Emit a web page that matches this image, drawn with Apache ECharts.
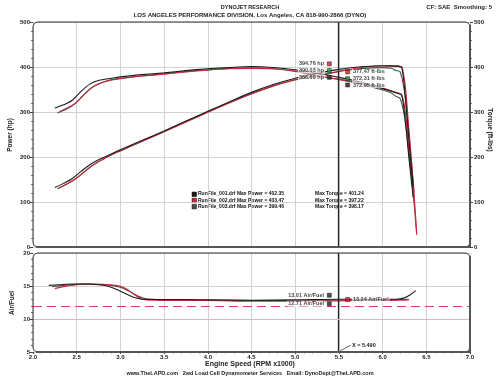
<!DOCTYPE html>
<html><head><meta charset="utf-8">
<script src="https://cdn.jsdelivr.net/npm/echarts@6/dist/echarts.min.js"></script>
<style>html,body{margin:0;padding:0;background:#fff}#c{width:500px;height:386px}</style>
</head><body><div id="c"></div>
<script>
// ---------- DATA ----------
var runNames = ['RunFile_001.drf', 'RunFile_002.drf', 'RunFile_003.drf'];
var maxPower = ['402.35', '403.47', '399.46'];
var maxTorque = ['401.24', '397.22', '398.17'];
var xTicks = [2.0, 2.5, 3.0, 3.5, 4.0, 4.5, 5.0, 5.5, 6.0, 6.5, 7.0];
var cursorX = 5.49;

var rpm1 = [2.25, 2.35, 2.45, 2.55, 2.65, 2.75, 2.9, 3.0, 3.25, 3.5, 3.75, 4.0, 4.25, 4.5, 4.75, 5.0, 5.25, 5.5, 5.75, 6.0, 6.1, 6.18, 6.22, 6.26, 6.3, 6.35];
var torque1 = [309, 316, 326, 346, 362, 370, 375, 378, 383, 387, 392, 396, 399, 401, 399, 394, 386, 377, 366, 352, 346, 341, 336, 280, 200, 110];
var power1 = [132.4, 141.4, 152.1, 168.0, 182.7, 193.7, 207.1, 215.9, 237.0, 257.9, 279.9, 301.6, 322.9, 343.6, 360.9, 375.1, 385.9, 394.8, 400.7, 402.1, 401.9, 401.3, 397.9, 333.7, 239.9, 133.0];

var rpm2 = [2.3, 2.4, 2.5, 2.6, 2.7, 2.8, 2.9, 3.0, 3.25, 3.5, 3.75, 4.0, 4.25, 4.5, 4.75, 5.0, 5.25, 5.5, 5.75, 6.0, 6.1, 6.18, 6.22, 6.26, 6.3, 6.35, 6.39];
var torque2 = [300, 310, 322, 342, 358, 366, 372, 375, 380, 384, 389, 393, 396, 397, 396, 391, 381, 372, 364, 353, 347, 342, 338, 300, 220, 120, 27];
var power2 = [131.4, 141.7, 153.3, 169.3, 184.0, 195.1, 205.4, 214.2, 235.1, 255.9, 277.8, 299.3, 320.4, 340.2, 358.1, 372.2, 380.9, 389.6, 398.5, 403.3, 403.0, 402.4, 400.3, 357.6, 263.9, 145.1, 32.9];

var rpm3 = [2.28, 2.38, 2.48, 2.58, 2.68, 2.8, 2.9, 3.0, 3.25, 3.5, 3.75, 4.0, 4.25, 4.5, 4.75, 5.0, 5.25, 5.5, 5.75, 6.0, 6.1, 6.15, 6.2, 6.25, 6.3, 6.36];
var torque3 = [298, 306, 318, 338, 355, 366, 371, 374, 380, 385, 390, 394, 397, 398, 396, 390, 380, 373, 362, 349, 342, 335, 330, 290, 210, 100];
var power3 = [129.4, 138.7, 150.2, 166.0, 181.1, 195.1, 204.9, 213.6, 235.1, 256.6, 278.5, 300.1, 321.3, 341.0, 358.1, 371.3, 379.9, 390.6, 396.3, 398.7, 397.2, 392.3, 389.6, 345.1, 251.9, 121.1];

var afrRpm1 = [2.18, 2.3, 2.45, 2.6, 2.75, 2.85, 2.95, 3.05, 3.15, 3.25, 3.4, 3.75, 4.0, 4.5, 5.0, 5.5, 5.75, 6.0, 6.15, 6.25, 6.32, 6.38];
var afr1 = [15.1, 15.2, 15.3, 15.3, 15.2, 15.0, 14.5, 13.9, 13.3, 13.0, 12.95, 12.95, 12.9, 12.85, 12.9, 13.0, 13.0, 13.0, 13.0, 13.2, 13.7, 14.3];
var afrRpm2 = [2.25, 2.35, 2.5, 2.65, 2.8, 2.95, 3.05, 3.15, 3.25, 3.4, 3.75, 4.0, 4.5, 5.0, 5.5, 5.75, 6.0, 6.2, 6.3];
var afr2 = [14.6, 14.9, 15.2, 15.3, 15.2, 15.1, 14.7, 13.8, 13.0, 12.85, 12.8, 12.8, 12.7, 12.7, 12.75, 12.8, 12.8, 12.85, 12.9];
var afrRpm3 = [2.22, 2.35, 2.5, 2.65, 2.8, 2.9, 3.0, 3.1, 3.2, 3.3, 3.5, 4.0, 4.5, 5.0, 5.5, 6.0, 6.2, 6.3];
var afr3 = [14.9, 15.1, 15.25, 15.3, 15.25, 15.1, 14.8, 14.2, 13.5, 13.05, 12.9, 12.85, 12.8, 12.8, 12.85, 12.9, 12.95, 13.0];
var afrTarget = 12.0;
var afrLow = 10.0;

var cursorHpText = ['394.76 hp', '390.03 hp', '386.69 hp'];
var cursorTqText = ['377.47 ft-lbs', '372.31 ft-lbs', '372.95 ft-lbs'];
var cursorAfrLeftText = ['13.01 Air/Fuel', '12.71 Air/Fuel'];
var cursorAfrRightText = ['13.24 Air/Fuel'];

// ---------- STYLE / LAYOUT ----------
var colors = ['#1b1b1b', '#c8283a', '#4a4f4a'];
var markColors = ['#d02020', '#2a8a3a', '#222'];
var FF = 'Liberation Sans';
// label anchor positions (in axis units)
var hpAnchor = {x: 5.39, y: [407, 392, 377]};
var tqAnchor = {x: 5.6, y: [389, 374, 360]};
var afrLeftAnchor = {x: 5.39, y: [13.6, 12.3]};
var afrRightAnchor = {x: 5.6, y: [12.95]};

function zip(xs, ys) { return xs.map(function (x, i) { return [x, ys[i]]; }); }

var series = [];
var rpms = [rpm1, rpm2, rpm3], tqs = [torque1, torque2, torque3], pws = [power1, power2, power3];
var afrRpms = [afrRpm1, afrRpm2, afrRpm3], afrs = [afr1, afr2, afr3];
for (var i = 0; i < 3; i++) {
  series.push({type: 'line', xAxisIndex: 0, yAxisIndex: 1, data: zip(rpms[i], tqs[i]), showSymbol: false, smooth: 0.3,
    lineStyle: {color: colors[i], width: 1.1}, z: 3 - i});
  series.push({type: 'line', xAxisIndex: 0, yAxisIndex: 0, data: zip(rpms[i], pws[i]), showSymbol: false, smooth: 0.3,
    lineStyle: {color: colors[i], width: 1.1}, z: 3 - i});
  series.push({type: 'line', xAxisIndex: 1, yAxisIndex: 2, data: zip(afrRpms[i], afrs[i]), showSymbol: false, smooth: 0.3,
    lineStyle: {color: colors[i], width: 1.1}, z: 3 - i});
}
// cursor + reference lines
series.push({type: 'line', xAxisIndex: 0, yAxisIndex: 0, data: [], markLine: {silent: true, symbol: 'none', label: {show: false},
  lineStyle: {color: '#222', width: 1.3, type: 'solid'}, data: [{xAxis: cursorX}]}});
series.push({type: 'line', xAxisIndex: 1, yAxisIndex: 2, data: [], markLine: {silent: true, symbol: 'none', label: {show: false},
  data: [
    {xAxis: cursorX, lineStyle: {color: '#222', width: 1.3, type: 'solid'}},
    {yAxis: afrTarget, lineStyle: {color: '#d8406a', width: 1.2, type: [9, 5]}},
    {yAxis: afrLow, lineStyle: {color: '#eab0c0', width: 1.2, type: 'solid'}}
  ]}});

function labelSeries(xi, yi, anchor, texts, cols, pos) {
  return {type: 'scatter', xAxisIndex: xi, yAxisIndex: yi, symbol: 'rect', symbolSize: 4, z: 10,
    data: texts.map(function (t, k) { return {value: [anchor.x, anchor.y[k]], itemStyle: {color: cols[k], borderColor: '#111', borderWidth: 0.6},
      label: {show: true, position: pos, distance: 2, formatter: t, fontSize: 5.5, fontWeight: 'bold', fontFamily: FF, color: '#111',
        backgroundColor: 'rgba(255,255,255,0.85)', padding: [0, 1]}}; })};
}
series.push(labelSeries(0, 0, hpAnchor, cursorHpText, markColors, 'left'));
series.push(labelSeries(0, 1, tqAnchor, cursorTqText, markColors, 'right'));
series.push(labelSeries(1, 2, afrLeftAnchor, cursorAfrLeftText, ['#222', '#222'], 'left'));
series.push(labelSeries(1, 2, afrRightAnchor, cursorAfrRightText, ['#d02020'], 'right'));

var axisLbl = {fontSize: 6, fontWeight: 'bold', fontFamily: FF, color: '#222'};
var split = {show: true, lineStyle: {color: '#c8c8c8', width: 0.8}};

var graphics = [
  {type: 'rect', shape: {x: 33, y: 22, width: 437, height: 225, r: 5}, style: {fill: 'none', stroke: '#333', lineWidth: 1}, z: 50},
  {type: 'rect', shape: {x: 33, y: 253, width: 437, height: 99, r: 5}, style: {fill: 'none', stroke: '#333', lineWidth: 1}, z: 50},
  {type: 'line', shape: {x1: 470, y1: 25, x2: 470, y2: 247}, style: {stroke: '#555', lineWidth: 2}, z: 50},
  {type: 'line', shape: {x1: 36, y1: 247, x2: 470, y2: 247}, style: {stroke: '#555', lineWidth: 2}, z: 50},
  {type: 'line', shape: {x1: 470, y1: 256, x2: 470, y2: 352}, style: {stroke: '#555', lineWidth: 2}, z: 50},
  {type: 'line', shape: {x1: 36, y1: 352, x2: 470, y2: 352}, style: {stroke: '#555', lineWidth: 2}, z: 50},
  {type: 'text', left: 'center', top: 4, style: {text: 'DYNOJET RESEARCH', font: 'bold 5.5px ' + FF, fill: '#222'}},
  {type: 'text', left: 'center', top: 12, style: {text: 'LOS ANGELES PERFORMANCE DIVISION, Los Angeles, CA 818-990-2866 (DYNO)', font: 'bold 6px ' + FF, fill: '#222'}},
  {type: 'text', right: 8, top: 4, style: {text: 'CF: SAE  Smoothing: 5', font: 'bold 6px ' + FF, fill: '#222'}},
  {type: 'text', x: 10, y: 135, rotation: Math.PI / 2, style: {text: 'Power (hp)', font: 'bold 6.5px ' + FF, fill: '#222', align: 'center', verticalAlign: 'middle'}},
  {type: 'text', x: 490, y: 130, rotation: -Math.PI / 2, style: {text: 'Torque (ft-lbs)', font: 'bold 6.5px ' + FF, fill: '#222', align: 'center', verticalAlign: 'middle'}},
  {type: 'text', x: 12, y: 303, rotation: Math.PI / 2, style: {text: 'Air/Fuel', font: 'bold 6.5px ' + FF, fill: '#222', align: 'center', verticalAlign: 'middle'}},
  {type: 'text', left: 'center', top: 361, style: {text: 'Engine Speed (RPM x1000)', font: 'bold 7px ' + FF, fill: '#222'}},
  {type: 'text', left: 'center', top: 370, style: {text: 'www.TheLAPD.com   2wd Load Cell Dynamometer Services   Email: DynoDept@TheLAPD.com', font: 'bold 5.5px ' + FF, fill: '#222'}},
  {type: 'line', shape: {x1: 340, y1: 351, x2: 351, y2: 345}, style: {stroke: '#444', lineWidth: 0.8}},
  {type: 'text', x: 352, y: 342, style: {text: 'X = 5.490', font: 'bold 5.5px ' + FF, fill: '#222'}}
];
for (var j = 0; j < 3; j++) {
  var yy = 192 + j * 6.2;
  graphics.push({type: 'rect', shape: {x: 192, y: yy, width: 4.5, height: 4.5}, style: {fill: colors[j], stroke: '#111', lineWidth: 0.5}});
  graphics.push({type: 'text', x: 198, y: yy - 0.5, style: {text: runNames[j] + ' Max Power = ' + maxPower[j], font: 'bold 5px ' + FF, fill: '#111'}});
  graphics.push({type: 'text', x: 315, y: yy - 0.5, style: {text: 'Max Torque = ' + maxTorque[j], font: 'bold 5px ' + FF, fill: '#111'}});
}

var chart = echarts.init(document.getElementById('c'), null, {renderer: 'canvas'});
chart.setOption({
  backgroundColor: '#fff',
  animation: false,
  grid: [
    {left: 33, right: 30, top: 22, height: 225},
    {left: 33, right: 30, top: 253, height: 99}
  ],
  xAxis: [
    {type: 'value', gridIndex: 0, min: xTicks[0], max: xTicks[xTicks.length - 1], interval: 0.5, axisLabel: {show: false},
      axisLine: {show: false}, axisTick: {show: false}, splitLine: split},
    {type: 'value', gridIndex: 1, min: xTicks[0], max: xTicks[xTicks.length - 1], interval: 0.5,
      axisLabel: Object.assign({margin: 2, formatter: function (v) { return v.toFixed(1); }}, axisLbl),
      axisLine: {show: false}, axisTick: {show: true, length: 2, lineStyle: {color: '#444'}},
      minorTick: {show: true, splitNumber: 5, length: 1.5, lineStyle: {color: '#777'}}, splitLine: split}
  ],
  yAxis: [
    {type: 'value', gridIndex: 0, min: 0, max: 500, interval: 100, position: 'left', axisLabel: Object.assign({margin: 3}, axisLbl),
      axisLine: {show: false}, axisTick: {show: true, length: 3, lineStyle: {color: '#444'}},
      minorTick: {show: true, splitNumber: 5, length: 2, lineStyle: {color: '#777'}}, splitLine: split},
    {type: 'value', gridIndex: 0, min: 0, max: 500, interval: 100, position: 'right', axisLabel: Object.assign({margin: 4}, axisLbl),
      axisLine: {show: false}, axisTick: {show: true, length: 3, lineStyle: {color: '#444'}},
      minorTick: {show: true, splitNumber: 5, length: 2, lineStyle: {color: '#777'}}, splitLine: {show: false}},
    {type: 'value', gridIndex: 1, min: 5, max: 20, interval: 5, position: 'left', axisLabel: Object.assign({margin: 3}, axisLbl),
      axisLine: {show: false}, axisTick: {show: true, length: 3, lineStyle: {color: '#444'}},
      minorTick: {show: true, splitNumber: 5, length: 2, lineStyle: {color: '#777'}}, splitLine: split}
  ],
  series: series,
  graphic: graphics
});
</script></body></html>
